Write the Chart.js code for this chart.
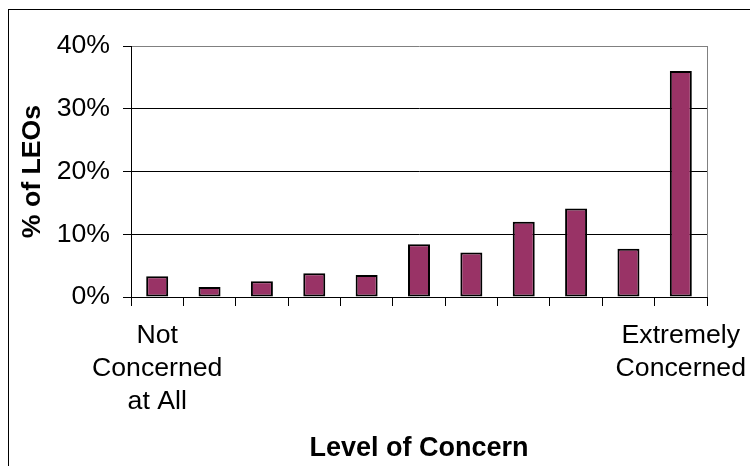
<!DOCTYPE html>
<html>
<head>
<meta charset="utf-8">
<script src="https://cdn.jsdelivr.net/npm/chart.js@4/dist/chart.umd.min.js"></script>
<style>
  html, body { margin: 0; padding: 0; background: #fff; overflow: hidden; }
  #frame { position: absolute; left: 8px; top: 9px; width: 800px; height: 800px; border: 1px solid #000; box-sizing: border-box; }
  #wrap { position: absolute; left: 0; top: 0; width: 750px; height: 466px; }
</style>
</head>
<body>
<div id="frame"></div>
<div id="wrap"><canvas id="c" width="750" height="466"></canvas></div>
<script>
// Data
const categories = [
  ['Not', 'Concerned', 'at All'], '', '', '', '', '', '', '', '', '',
  ['Extremely', 'Concerned']
];
const percentOfLEOs = [3.3, 1.6, 2.5, 3.8, 3.5, 8.4, 7.1, 12.0, 14.1, 7.7, 36.0];
const yTicks = [0, 10, 20, 30, 40];
const yTitle = '% of LEOs';
const xTitle = 'Level of Concern';

const FONT = "'Liberation Sans', Arial, Helvetica, sans-serif";

const plotBorder = {
  id: 'plotBorder',
  beforeDatasetsDraw(chart) {
    const a = chart.chartArea, ctx = chart.ctx;
    ctx.save();
    ctx.strokeStyle = '#808080';
    ctx.lineWidth = 1;
    ctx.beginPath();
    ctx.moveTo(Math.round(a.right) + 0.5, a.top);
    ctx.lineTo(Math.round(a.right) + 0.5, a.bottom);
    ctx.stroke();
    ctx.restore();
  }
};

new Chart(document.getElementById('c'), {
  type: 'bar',
  data: {
    labels: categories,
    datasets: [{
      data: percentOfLEOs,
      backgroundColor: '#993366',
      borderColor: '#000000',
      borderWidth: 2,
      borderSkipped: false,
      barPercentage: 0.42,
      categoryPercentage: 1.0
    }]
  },
  options: {
    responsive: false,
    animation: false,
    events: [],
    layout: { padding: { left: 0, top: 46, right: 43, bottom: 0 } },
    plugins: { legend: { display: false }, tooltip: { enabled: false } },
    scales: {
      x: {
        offset: true,
        grid: {
          offset: true,
          drawOnChartArea: false,
          drawTicks: true,
          tickLength: 9,
          tickColor: '#000000',
          lineWidth: 1
        },
        border: { display: true, color: '#000000', width: 1 },
        ticks: {
          autoSkip: false,
          maxRotation: 0,
          minRotation: 0,
          padding: 13,
          color: '#000000',
          font: { family: FONT, size: 26.67, lineHeight: 1.24 }
        },
        title: {
          display: true,
          text: xTitle,
          color: '#000000',
          font: { family: FONT, size: 27, weight: 'bold', lineHeight: 1.2 },
          padding: { top: 0, bottom: 1.5 }
        },
        afterFit(scale) {
          scale.height = 169;
          scale.paddingLeft = 0;
          scale.paddingRight = 0;
        }
      },
      y: {
        min: 0,
        max: 40,
        afterBuildTicks(scale) {
          scale.ticks = yTicks.map(v => ({ value: v }));
        },
        grid: {
          color: ctx => (ctx.tick && ctx.tick.value === 40) ? '#808080' : '#000000',
          lineWidth: 1,
          drawTicks: true,
          tickLength: 8,
          tickColor: '#000000'
        },
        border: { display: true, color: '#000000', width: 1 },
        ticks: {
          padding: 13,
          color: '#000000',
          font: { family: FONT, size: 26.67 },
          callback: v => v + '%'
        },
        title: {
          display: true,
          text: yTitle,
          color: '#000000',
          font: { family: FONT, size: 26.67, weight: 'bold', lineHeight: 1.2 },
          padding: { top: 16.5, bottom: 0 }
        },
        afterFit(scale) {
          scale.width = 131;
          scale.paddingTop = 0;
          scale.paddingBottom = 0;
        }
      }
    }
  },
  plugins: [plotBorder]
});
</script>
</body>
</html>
